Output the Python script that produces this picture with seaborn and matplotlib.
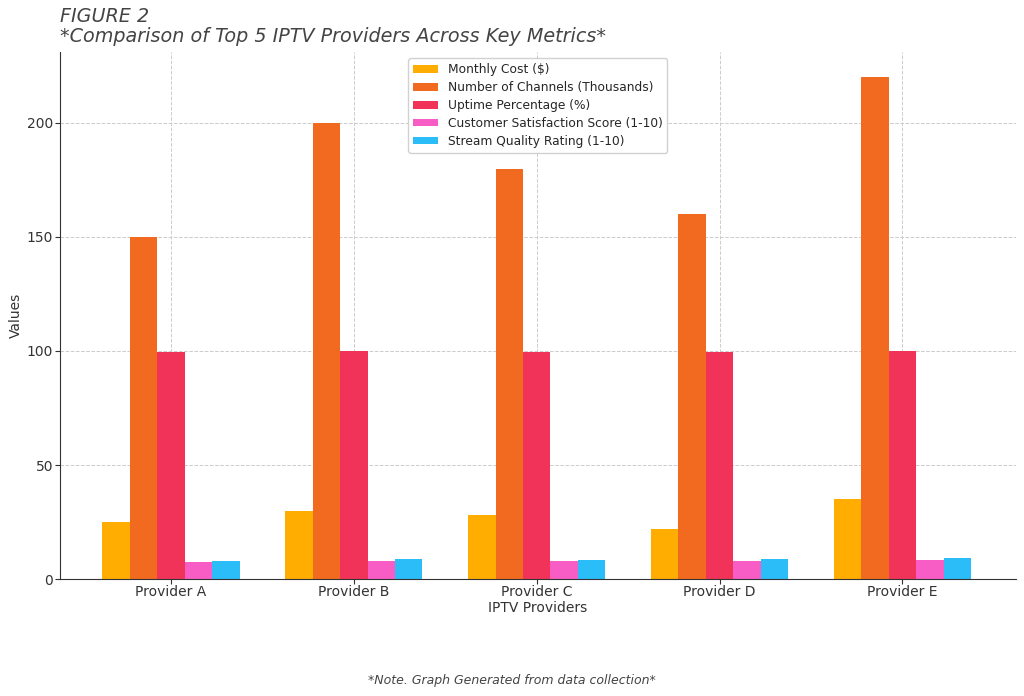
import pandas as pd
import matplotlib
matplotlib.use("Agg")
import matplotlib.pyplot as plt
import seaborn as sns

providers = ["Provider A", "Provider B", "Provider C", "Provider D", "Provider E"]
metrics = [
    "Monthly Cost ($)",
    "Number of Channels (Thousands)",
    "Uptime Percentage (%)",
    "Customer Satisfaction Score (1-10)",
    "Stream Quality Rating (1-10)",
]
monthly_cost = [25, 30, 28, 22, 35]
channels = [150, 200, 180, 160, 220]
uptime = [99.5, 99.9, 99.7, 99.6, 99.9]
satisfaction = [7.5, 8.0, 7.8, 8.0, 8.5]
stream_quality = [8.0, 9.0, 8.5, 8.7, 9.2]
colors = ["#FFAD00", "#F26A1F", "#F23359", "#F75DC4", "#2BBDF7"]

rows = []
for metric, vals in zip(metrics, [monthly_cost, channels, uptime, satisfaction, stream_quality]):
    for p, v in zip(providers, vals):
        rows.append({"Provider": p, "Metric": metric, "Value": v})
data = pd.DataFrame(rows)

sns.set_style("white")
plt.rcParams["font.family"] = ["DejaVu Sans"]

fig = plt.figure(figsize=(10.24, 6.96), dpi=100)
ax = fig.add_axes([0.0586, 0.168, 0.9334, 0.757])

sns.barplot(
    data=data, x="Provider", y="Value", hue="Metric",
    palette=colors, width=0.75, saturation=1, ax=ax, errorbar=None,
    linewidth=0,
)

ax.set_xlim(-0.607, 4.62)
ax.set_ylim(0, 231)
ax.set_yticks([0, 50, 100, 150, 200])
ax.grid(True, linestyle="--", color="#cccccc", linewidth=0.7)
ax.set_axisbelow(True)
for s in ["top", "right"]:
    ax.spines[s].set_visible(False)
for s in ["left", "bottom"]:
    ax.spines[s].set_color("#333333")
ax.tick_params(axis="both", labelsize=10, colors="#333333", length=3.5, pad=1.5,
               direction="out", left=True, bottom=True)
ax.tick_params(axis="x", pad=1)
ax.set_xlabel("IPTV Providers", fontsize=10, color="#333333", labelpad=1)
ax.set_ylabel("Values", fontsize=10, color="#333333", labelpad=3)

ax.legend(loc="upper center", fontsize=8.8, frameon=True, framealpha=0.9,
          edgecolor="#cccccc", fancybox=True, handlelength=2.0, handleheight=0.6,
          labelspacing=0.4, borderaxespad=0.5)

ax.set_title("FIGURE 2\n*Comparison of Top 5 IPTV Providers Across Key Metrics*",
             loc="left", fontsize=13.8, style="italic", color="#444444",
             linespacing=1.1, pad=7)

fig.text(0.5, 0.017, "*Note. Graph Generated from data collection*", ha="center",
         fontsize=9, style="italic", color="#444444")

fig.savefig("out.png", dpi=100)
